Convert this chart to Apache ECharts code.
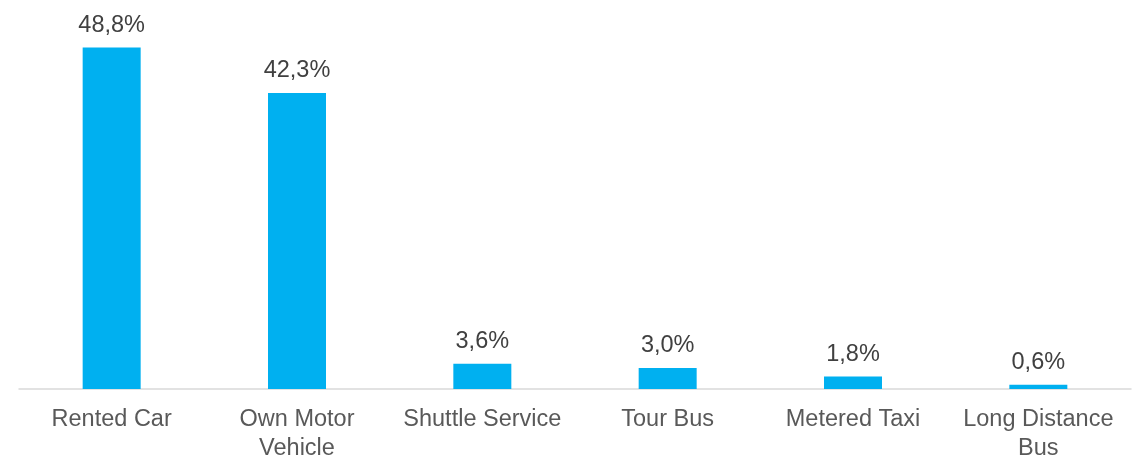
<!DOCTYPE html>
<html>
<head>
<meta charset="utf-8">
<script src="https://cdn.jsdelivr.net/npm/echarts@6/dist/echarts.min.js"></script>
<style>
  html, body { margin: 0; padding: 0; background: #ffffff; }
  #chart { width: 1138px; height: 455px; }
</style>
</head>
<body>
<div id="chart"></div>
<script>
// Modes of transport used (share of respondents, %)
const categories = ['Rented Car', 'Own Motor\nVehicle', 'Shuttle Service', 'Tour Bus', 'Metered Taxi', 'Long Distance\nBus'];
const shares = [48.8, 42.3, 3.6, 3.0, 1.8, 0.6];

const chart = echarts.init(document.getElementById('chart'), null, { renderer: 'canvas' });

chart.setOption({
  animation: false,
  backgroundColor: '#ffffff',
  grid: { left: 19, right: 7, top: 39, bottom: 66, containLabel: false, outerBoundsMode: 'none' },
  xAxis: {
    type: 'category',
    data: categories,
    axisLine: { show: true, lineStyle: { color: '#d9d9d9', width: 1.5 } },
    axisTick: { show: false },
    axisLabel: {
      color: '#595959',
      fontFamily: 'Liberation Sans, Arial, sans-serif',
      fontSize: 23.5,
      lineHeight: 29,
      margin: 16,
      interval: 0
    }
  },
  yAxis: {
    type: 'value',
    min: 0,
    max: 50,
    show: false,
    splitLine: { show: false }
  },
  series: [{
    type: 'bar',
    data: shares,
    barWidth: 58,
    itemStyle: { color: '#00b0f0' },
    label: {
      show: true,
      position: 'top',
      distance: 10,
      color: '#404040',
      fontFamily: 'Liberation Sans, Arial, sans-serif',
      fontSize: 23.5,
      formatter: p => p.value.toFixed(1).replace('.', ',') + '%'
    }
  }]
});
</script>
</body>
</html>
